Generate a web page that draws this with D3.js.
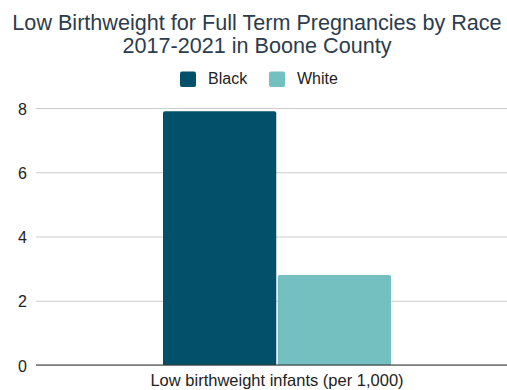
<!DOCTYPE html>
<html>
<head>
<meta charset="utf-8">
<script src="https://cdn.jsdelivr.net/npm/d3@7/dist/d3.min.js"></script>
<style>
  html, body { margin: 0; padding: 0; background: #fff; }
  svg { display: block; font-family: "Liberation Sans", Arial, sans-serif; }
</style>
</head>
<body>
<svg id="chart" width="507" height="390"></svg>
<script>
// Chart data
const titleLines = ["Low Birthweight for Full Term Pregnancies by Race", "2017-2021 in Boone County"];
const categories = ["Low birthweight infants (per 1,000)"];
const seriesNames = ["Black", "White"];
const blackValues = [7.9];
const whiteValues = [2.8];
const yTicks = [0, 2, 4, 6, 8];
const colors = ["#02506a", "#74bfc0"];

const svg = d3.select("#chart");
const margin = { left: 36, right: -11, top: 108, bottom: 25 };
const W = 507, H = 390;

const x0 = d3.scaleBand()
  .domain(categories)
  .range([margin.left, W - margin.right])
  .paddingInner(0)
  .paddingOuter(0.557);

const x1 = d3.scaleBand()
  .domain(seriesNames)
  .range([0, x0.bandwidth()])
  .paddingInner(0.013);

const y = d3.scaleLinear()
  .domain([0, 8])
  .range([H - margin.bottom, margin.top]);

// Title
svg.append("g").selectAll("text")
  .data(titleLines)
  .join("text")
  .attr("x", 257)
  .attr("y", (d, i) => 30 + i * 22.6)
  .attr("text-anchor", "middle")
  .attr("font-size", 21.6)
  .attr("fill", "#2c3c4c")
  .text(d => d);

// Legend
const legend = svg.append("g");
const legendX = [180, 269];
seriesNames.forEach((name, i) => {
  legend.append("rect")
    .attr("x", legendX[i]).attr("y", 71.5)
    .attr("width", 16).attr("height", 15.5)
    .attr("rx", 2)
    .attr("fill", colors[i]);
  legend.append("text")
    .attr("x", legendX[i] + 28).attr("y", 83.5)
    .attr("font-size", 16)
    .attr("fill", "#222")
    .text(name);
});

// Gridlines and y tick labels
const yAxis = d3.axisLeft(y).tickValues(yTicks).tickSize(-(W - margin.left - margin.right)).tickFormat(d3.format("d"));
const gy = svg.append("g")
  .attr("transform", `translate(${margin.left},0)`)
  .call(yAxis);
gy.select(".domain").remove();
gy.selectAll(".tick line").attr("stroke", "#cccccc").attr("stroke-width", 1);
gy.selectAll(".tick text")
  .attr("x", -9)
  .attr("dy", "0.38em")
  .attr("font-size", 16)
  .attr("font-family", "Liberation Sans, Arial, sans-serif")
  .attr("fill", "#222");

// Bars with slightly rounded tops
const r = 2;
function topRounded(x, yTop, w, yBase) {
  return `M${x},${yBase} L${x},${yTop + r} Q${x},${yTop} ${x + r},${yTop} L${x + w - r},${yTop} Q${x + w},${yTop} ${x + w},${yTop + r} L${x + w},${yBase} Z`;
}
const rows = categories.map((c, i) => ({ cat: c, values: [blackValues[i], whiteValues[i]] }));
svg.append("g").selectAll("path")
  .data(rows.flatMap(row => row.values.map((v, j) => ({ cat: row.cat, series: seriesNames[j], v, j }))))
  .join("path")
  .attr("d", d => topRounded(x0(d.cat) + x1(d.series), y(d.v), x1.bandwidth(), y(0)))
  .attr("fill", d => colors[d.j]);

// Baseline
svg.append("line")
  .attr("x1", margin.left).attr("x2", W)
  .attr("y1", y(0)).attr("y2", y(0))
  .attr("stroke", "#333").attr("stroke-width", 1.2);

// X axis category label
const xAxis = d3.axisBottom(x0).tickSize(0);
const gx = svg.append("g")
  .attr("transform", `translate(0,${y(0)})`)
  .call(xAxis);
gx.select(".domain").remove();
gx.selectAll(".tick text")
  .attr("dy", 0).attr("y", 21)
  .attr("font-size", 16.5)
  .attr("font-family", "Liberation Sans, Arial, sans-serif")
  .attr("fill", "#222");
</script>
</body>
</html>
